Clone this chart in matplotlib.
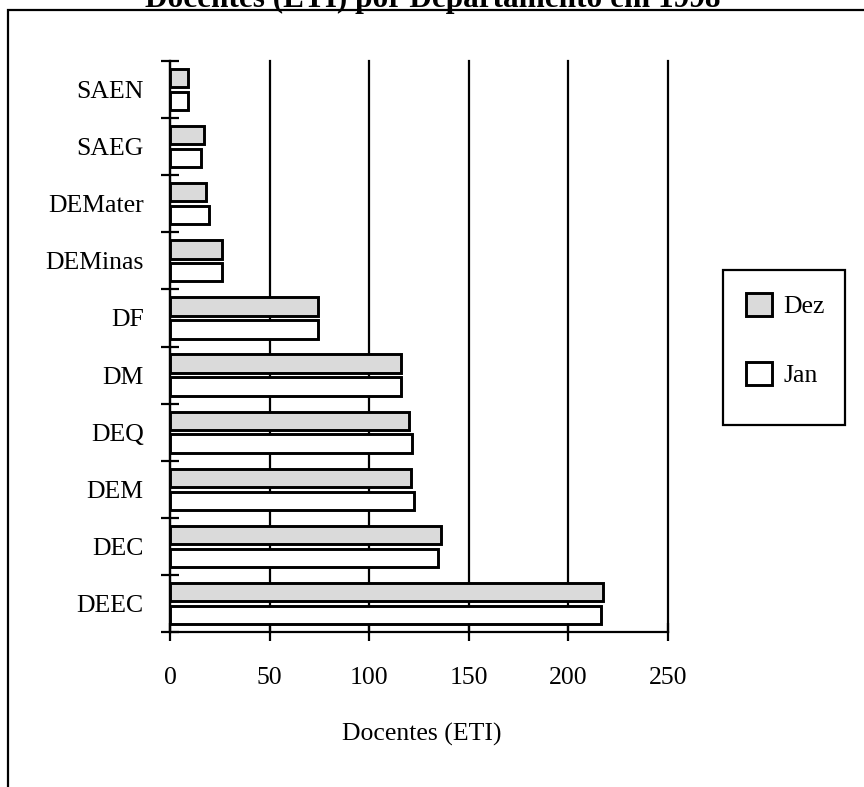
import matplotlib
matplotlib.use('Agg')
import matplotlib.pyplot as plt
import numpy as np
from matplotlib.patches import Rectangle, Patch

# departamentos, de baixo para cima
departamentos = ['DEEC', 'DEC', 'DEM', 'DEQ', 'DM', 'DF', 'DEMinas', 'DEMater', 'SAEG', 'SAEN']
dez = [217.5, 136, 121, 120, 116, 74.5, 26, 18, 17, 9]
jan = [216.5, 134.5, 122.5, 121.5, 116, 74.5, 26, 19.5, 15.5, 9]
x_ticks = [0, 50, 100, 150, 200, 250]

plt.rcParams.update({
    'font.family': 'serif',
    'font.serif': ['Liberation Serif', 'DejaVu Serif'],
})

fig = plt.figure(figsize=(8.64, 7.87), dpi=100)
ax = fig.add_axes([170/864, 155/787, 498/864, 571/787])

y = np.arange(len(departamentos))
ax.barh(y + 0.2, dez, height=0.32, color='#dadada', edgecolor='black', linewidth=2.1, label='Dez', zorder=3)
ax.barh(y - 0.2, jan, height=0.32, color='white', edgecolor='black', linewidth=2.1, label='Jan', zorder=3)

ax.set_xlim(0, 250)
ax.set_ylim(-0.5, len(departamentos) - 0.5)
ax.set_xticks(x_ticks)
ax.set_xticklabels([str(v) for v in x_ticks], fontsize=18.5)
ax.set_yticks(np.arange(-0.5, len(departamentos), 1))
ax.set_yticklabels([])
ax.set_yticks(y, minor=True)
ax.set_yticklabels(departamentos, minor=True, fontsize=18.5)

ax.xaxis.grid(True, color='black', linewidth=1.6)
for gl in ax.get_xgridlines():
    gl.set_clip_on(False)
ax.set_axisbelow(True)
ax.tick_params(axis='x', direction='inout', length=13, width=1.6, pad=19)
ax.tick_params(axis='y', which='major', direction='inout', length=13, width=1.6)
ax.tick_params(axis='y', which='minor', length=0, pad=19)

for s in ['top', 'right']:
    ax.spines[s].set_visible(False)
for s in ['left', 'bottom']:
    ax.spines[s].set_linewidth(1.6)

ax.set_xlabel('Docentes (ETI)', fontsize=18.5, va='center')
ax.xaxis.set_label_coords(0.505, -0.18)

# legenda: entradas sem moldura, moldura desenhada à parte
leg = ax.legend(handles=[Patch(facecolor='#dadada', edgecolor='black', linewidth=2.1, label='Dez'),
                         Patch(facecolor='white', edgecolor='black', linewidth=2.1, label='Jan')],
                loc='upper left', bbox_to_anchor=(746/864, 1 - 293/787), bbox_transform=fig.transFigure,
                fontsize=18.5, frameon=False, handlelength=1.0, handleheight=1.0,
                handletextpad=0.45, labelspacing=1.7, borderpad=0, borderaxespad=0)
fig.add_artist(Rectangle((723/864, 1 - 425/787), 122/864, 155/787, transform=fig.transFigure,
                         fill=False, edgecolor='black', linewidth=1.6))

# moldura exterior (cortada na imagem)
fig.add_artist(Rectangle((8/864, -0.1), 2, 1.1 - 10/787, transform=fig.transFigure,
                         fill=False, edgecolor='black', linewidth=1.6))
fig.text(433/864, 1 - 7/787, 'Docentes (ETI) por Departamento em 1998', ha='center', va='baseline',
         fontsize=22.5, fontweight='bold')

fig.savefig('out.png', dpi=100)
